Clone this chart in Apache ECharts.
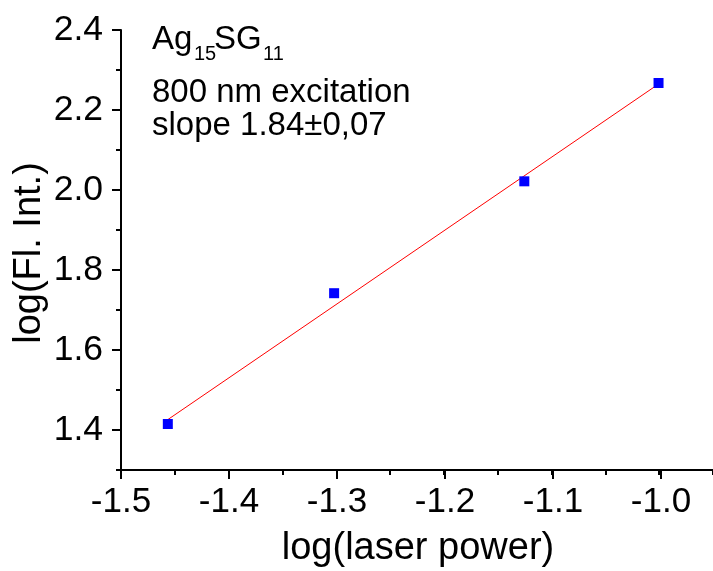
<!DOCTYPE html>
<html>
<head>
<meta charset="utf-8">
<script src="https://cdn.jsdelivr.net/npm/echarts@6/dist/echarts.min.js"></script>
<style>
html,body{margin:0;padding:0;background:#fff;}
#chart{width:713px;height:571px;}
</style>
</head>
<body>
<div id="chart"></div>
<script>
// ---- data ----
const logPower = [-1.4565, -1.302, -1.1253, -1.0006];
const logIntensity = [1.415, 1.742, 2.0217, 2.2675];
const fitX = [-1.4565, -1.0];
const fitY = [1.426, 2.266];
const xTickLabels = ['-1.5', '-1.4', '-1.3', '-1.2', '-1.1', '-1.0'];
const yTickLabels = ['1.4', '1.6', '1.8', '2.0', '2.2', '2.4'];
const xTitle = 'log(laser power)';
const yTitle = 'log(Fl. Int.)';

const FONT = '"Liberation Sans", Arial, sans-serif';
const chart = echarts.init(document.getElementById('chart'), null, {renderer: 'canvas'});

const scatterData = logPower.map((x, i) => [x, logIntensity[i]]);
const fitData = fitX.map((x, i) => [x, fitY[i]]);

function fmtLabel(list) {
  return function (v) {
    const s = v.toFixed(1);
    return list.indexOf(s) >= 0 ? s : '';
  };
}

const option = {
  animation: false,
  backgroundColor: '#ffffff',
  grid: [
    {left: 121, top: 30, width: 594, height: 440},
    {left: 121, top: 30, width: 540, height: 400},
    {left: 121, top: 30, width: 540, height: 440}
  ],
  xAxis: [
    {
      gridIndex: 0, type: 'value', min: -1.5, max: -0.95, interval: 0.05,
      axisLine: {show: true, onZero: false, lineStyle: {color: '#000', width: 2}},
      axisTick: {show: true, inside: false, length: 5, lineStyle: {color: '#000', width: 2}},
      axisLabel: {show: false}, splitLine: {show: false}
    },
    {gridIndex: 1, type: 'value', min: -1.5, max: -1.0, show: false},
    {
      gridIndex: 2, type: 'value', min: -1.5, max: -1.0, interval: 0.1,
      axisLine: {show: false, onZero: false},
      axisTick: {show: true, inside: false, length: 9, lineStyle: {color: '#000', width: 2}},
      axisLabel: {show: true, margin: 15, color: '#000', fontSize: 35, fontFamily: FONT,
        formatter: fmtLabel(xTickLabels)},
      splitLine: {show: false}
    }
  ],
  yAxis: [
    {
      gridIndex: 0, type: 'value', min: 1.3, max: 2.4, interval: 0.1,
      axisLine: {show: true, onZero: false, lineStyle: {color: '#000', width: 2}},
      axisTick: {show: true, inside: false, length: 5, lineStyle: {color: '#000', width: 2}},
      axisLabel: {show: false}, splitLine: {show: false}
    },
    {
      gridIndex: 1, type: 'value', min: 1.4, max: 2.4, interval: 0.2,
      axisLine: {show: false, onZero: false},
      axisTick: {show: true, inside: false, length: 9, lineStyle: {color: '#000', width: 2}},
      axisLabel: {show: true, margin: 18, color: '#000', fontSize: 35.5, fontFamily: FONT,
        formatter: fmtLabel(yTickLabels)},
      splitLine: {show: false}
    },
    {gridIndex: 2, type: 'value', min: 1.3, max: 2.4, show: false}
  ],
  series: [
    {
      type: 'line', xAxisIndex: 0, yAxisIndex: 0, data: fitData,
      showSymbol: false, symbol: 'none', silent: true,
      lineStyle: {color: '#ff0000', width: 1}, z: 2
    },
    {
      type: 'scatter', xAxisIndex: 0, yAxisIndex: 0, data: scatterData,
      symbol: 'rect', symbolSize: 10,
      itemStyle: {color: '#0000ff', opacity: 1}, z: 3
    }
  ],
  graphic: [
    {type: 'text', x: 152, y: 39.5, style: {text: 'Ag', font: '33px ' + FONT, fill: '#000', verticalAlign: 'middle'}},
    {type: 'text', x: 194, y: 54.5, style: {text: '15', font: '20px ' + FONT, fill: '#000', verticalAlign: 'middle'}},
    {type: 'text', x: 214, y: 39.5, style: {text: 'SG', font: '33px ' + FONT, fill: '#000', verticalAlign: 'middle'}},
    {type: 'text', x: 263, y: 54.5, style: {text: '11', font: '20px ' + FONT, fill: '#000', verticalAlign: 'middle'}},
    {type: 'text', x: 152, y: 92.5, style: {text: '800 nm excitation', font: '33px ' + FONT, fill: '#000', verticalAlign: 'middle'}},
    {type: 'text', x: 152, y: 126, style: {text: 'slope 1.84\u00B10,07', font: '33px ' + FONT, fill: '#000', verticalAlign: 'middle'}},
    {type: 'text', x: 418, y: 549, style: {text: xTitle, font: '38px ' + FONT, fill: '#000', align: 'center', verticalAlign: 'middle'}},
    {type: 'text', x: 30, y: 253, rotation: Math.PI / 2, style: {text: yTitle, font: '38px ' + FONT, fill: '#000', align: 'center', verticalAlign: 'middle'}}
  ]
};
chart.setOption(option);
</script>
</body>
</html>
